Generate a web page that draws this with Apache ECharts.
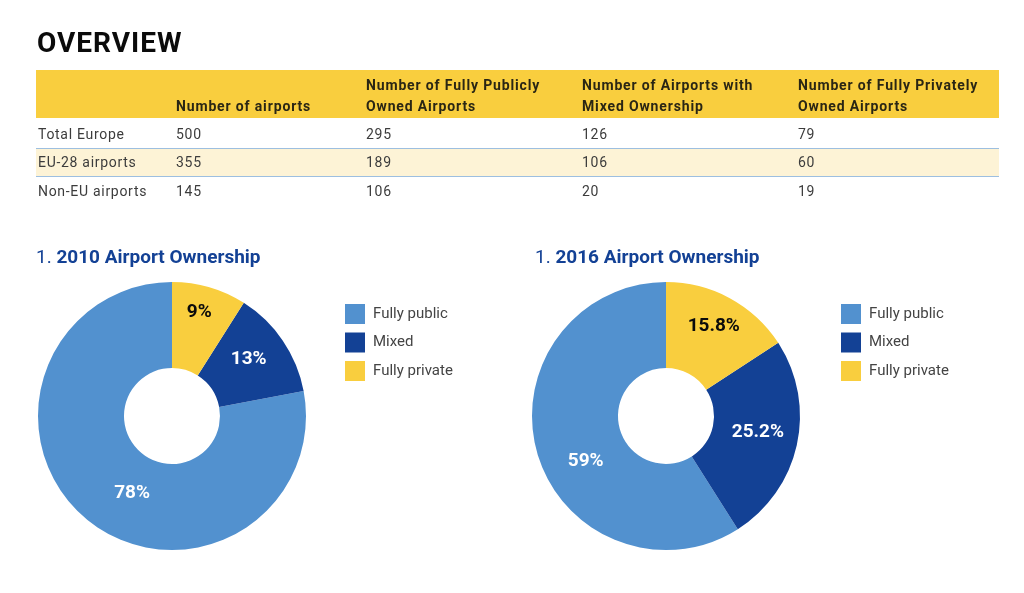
<!DOCTYPE html>
<html lang="en">

<head>
  <meta charset="UTF-8">
  <title>Overview</title>
  <script src="https://cdn.jsdelivr.net/npm/echarts@6/dist/echarts.min.js"></script>
  <style>
    body { margin: 0; background: #fff; font-family: Roboto, sans-serif; }
    #chart { position: absolute; left: 0; top: 0; width: 1024px; height: 593px; }
    h1 { position: absolute; left: 37px; top: 26px; margin: 0; font-size: 28px; line-height: 34px; font-weight: 700; letter-spacing: 1px; color: #0b0b0b; }
    table { position: absolute; left: 36px; top: 70px; width: 963px; border-collapse: collapse; table-layout: fixed; font-size: 14px; color: #3c3c3c; letter-spacing: .7px; }
    th { background: #f9ce3e; height: 47px; padding: 0 0 1px 0; text-align: left; vertical-align: bottom; font-weight: 700; line-height: 21px; color: #2a2614; letter-spacing: .85px; }
    td { padding: 2px 0 0 0; height: 28px; }
    td:first-child, th:first-child { padding-left: 2px; }
    tr.odd td { height: 25px; padding: 0 0 2px 0; background: #fdf3d6; border-top: 1.5px solid #9dbfe0; border-bottom: 1.5px solid #9dbfe0; }
    tr.odd td:first-child { padding-left: 2px; }
    tr.last td { padding: 0 0 2px 0; }
    tr.last td:first-child { padding-left: 2px; }
  </style>
</head>

<body>
  <div id="chart"></div>
  <h1>OVERVIEW</h1>
  <table id="overview"></table>
  <script>
    // table
    const headers = ['', 'Number of airports', 'Number of Fully Publicly<br>Owned Airports', 'Number of Airports with<br>Mixed Ownership', 'Number of Fully Privately<br>Owned Airports']
    const rowNames = ['Total Europe', 'EU-28 airports', 'Non-EU airports']
    const rowClasses = ['', 'odd', 'last']
    const airports = [500, 355, 145]
    const fullyPublic = [295, 189, 106]
    const mixedOwned = [126, 106, 20]
    const fullyPrivate = [79, 60, 19]

    // pies
    const ownershipNames = ['Fully public', 'Mixed', 'Fully private']
    const share2010 = [78, 13, 9]
    const share2016 = [59, 25.2, 15.8]

    const colWidths = [140, 190, 216, 216, 201]
    let html = '<colgroup>' + colWidths.map(w => `<col style="width:${w}px">`).join('') + '</colgroup>'
    html += '<tr>' + headers.map(h => `<th>${h}</th>`).join('') + '</tr>'
    rowNames.forEach((name, i) => {
      html += `<tr class="${rowClasses[i]}"><td>${name}</td><td>${airports[i]}</td><td>${fullyPublic[i]}</td><td>${mixedOwned[i]}</td><td>${fullyPrivate[i]}</td></tr>`
    })
    document.getElementById('overview').innerHTML = html

    const colors = ['#5291cf', '#134195', '#f9ce3e']
    const labelColors = ['#fff', '#fff', '#0b0b0b']

    function makeTitle(left, text) {
      return {
        left: left,
        top: 244,
        text: '{n|1. }{b|' + text + '}',
        textStyle: {
          rich: {
            n: { fontFamily: 'Roboto', fontSize: 19, fontWeight: 400, color: '#134195' },
            b: { fontFamily: 'Roboto', fontSize: 19, fontWeight: 700, color: '#134195' }
          }
        }
      }
    }

    function makeLegend(left) {
      return {
        left: left,
        top: 299,
        orient: 'vertical',
        icon: 'rect',
        itemWidth: 20,
        itemHeight: 20,
        itemGap: 8.5,
        data: ownershipNames,
        textStyle: { fontFamily: 'Roboto', fontSize: 15, color: '#444', padding: [3, 0, 0, 3] }
      }
    }

    function makePie(cx, name, values, shifts) {
      return {
        type: 'pie',
        name: name,
        center: [cx, 416],
        radius: [48, 134],
        startAngle: 90,
        clockwise: false,
        silent: true,
        label: { position: 'inside', fontFamily: 'Roboto', fontSize: 19, fontWeight: 700 },
        labelLine: { show: false },
        labelLayout: params => ({ dx: shifts[params.dataIndex][0], dy: shifts[params.dataIndex][1] }),
        data: values.map((v, i) => ({
          name: ownershipNames[i],
          value: v,
          itemStyle: { color: colors[i] },
          label: { color: labelColors[i], formatter: v + '%' }
        }))
      }
    }

    const chart = echarts.init(document.getElementById('chart'))
    chart.setOption({
      animation: false,
      title: [makeTitle(31, '2010 Airport Ownership'), makeTitle(530, '2016 Airport Ownership')],
      legend: [makeLegend(340), makeLegend(836)],
      series: [
        makePie(172, '2010', share2010, [[20, 5], [-1, -4], [1, -13]]),
        makePie(666, '2016', share2016, [[10, 19], [0, -4], [3, -7]])
      ]
    })
  </script>
</body>

</html>
